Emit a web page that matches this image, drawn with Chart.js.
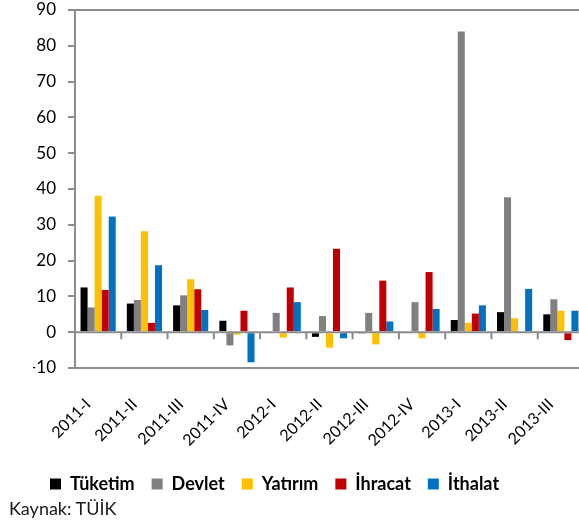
<!DOCTYPE html>
<html>
<head>
<meta charset="utf-8">
<script src="https://cdn.jsdelivr.net/npm/chart.js@4"></script>
<style>
  body { margin: 0; overflow: hidden; background: #fff; }
  #wrap { position: absolute; left: 0; top: 0; width: 600px; height: 525px; }
  #source { position: absolute; left: 9px; top: 497px; font: 18px Lato, sans-serif; color: #1a1a1a; }
</style>
</head>
<body>
<div id="wrap"><canvas id="growthChart"></canvas></div>
<div id="source">Kaynak: TÜİK</div>
<script>
const quarters = ['2011-I', '2011-II', '2011-III', '2011-IV', '2012-I', '2012-II', '2012-III', '2012-IV', '2013-I', '2013-II', '2013-III'];
const tuketim = [12.5, 8.0, 7.5, 3.2, -0.3, -1.3, -0.2, -0.3, 3.4, 5.6, 5.0];
const devlet = [6.9, 9.0, 10.3, -3.7, 5.4, 4.5, 5.4, 8.4, 84.0, 37.7, 9.2];
const yatirim = [38.1, 28.2, 14.8, -0.7, -1.5, -4.3, -3.4, -1.7, 2.6, 3.9, 6.0];
const ihracat = [11.8, 2.6, 12.0, 6.0, 12.5, 23.3, 14.4, 16.8, 5.2, 0, -2.2];
const ithalat = [32.3, 18.7, 6.2, -8.4, 8.4, -1.7, 3.0, 6.5, 7.5, 12.1, 6.0];

const axisGray = '#8c8c8c';

// category axis drawn at zero, with tick marks between quarters
const zeroAxis = {
    id: 'zeroAxis',
    afterDatasetsDraw(chart) {
        const x = chart.scales.x, y = chart.scales.y;
        const ctx = chart.ctx;
        const y0 = y.getPixelForValue(0);
        const step = x.width / quarters.length;
        ctx.save();
        ctx.strokeStyle = axisGray;
        ctx.lineWidth = 2;
        ctx.beginPath();
        ctx.moveTo(x.left, y0);
        ctx.lineTo(x.right, y0);
        for (let i = 1; i <= quarters.length; i++) {
            const px = x.getPixelForValue(i - 1) + step / 2;
            ctx.moveTo(px, y0);
            ctx.lineTo(px, y0 + 7);
        }
        ctx.stroke();
        ctx.restore();
    }
};

new Chart(document.getElementById('growthChart'), {
    type: 'bar',
    data: {
        labels: quarters,
        datasets: [
            { label: 'Tüketim', data: tuketim, backgroundColor: '#000000' },
            { label: 'Devlet', data: devlet, backgroundColor: '#808080' },
            { label: 'Yatırım', data: yatirim, backgroundColor: '#FFC000' },
            { label: 'İhracat', data: ihracat, backgroundColor: '#C00000' },
            { label: 'İthalat', data: ithalat, backgroundColor: '#0070C0' }
        ]
    },
    options: {
        responsive: true,
        maintainAspectRatio: false,
        animation: false,
        categoryPercentage: 0.76,
        barPercentage: 1.0,
        layout: { padding: { left: 33, right: 16, top: 0, bottom: 22 } },
        scales: {
            x: {
                grid: { display: false },
                border: { display: false },
                ticks: {
                    minRotation: 45,
                    maxRotation: 45,
                    autoSkip: false,
                    padding: 19,
                    labelOffset: -10,
                    color: '#000',
                    font: { family: 'Lato', size: 16 }
                },
                afterFit: (scale) => { scale.height = 90; }
            },
            y: {
                min: -10,
                max: 90,
                ticks: {
                    stepSize: 10,
                    padding: 12,
                    color: '#000',
                    font: { family: 'Lato', size: 17 }
                },
                grid: {
                    color: (c) => (c.tick && (c.tick.value === 90 || c.tick.value === -10)) ? axisGray : 'rgba(0,0,0,0)',
                    tickColor: axisGray,
                    tickLength: 7,
                    lineWidth: 2
                },
                border: { color: axisGray, width: 2 },
                afterFit: (scale) => {
                    scale.width = 42;
                    scale.paddingTop = 10;
                    scale.paddingBottom = 10;
                }
            }
        },
        plugins: {
            legend: {
                position: 'bottom',
                align: 'start',
                labels: {
                    boxWidth: 11,
                    boxHeight: 11,
                    padding: 17,
                    color: '#000',
                    font: { family: 'Lato', size: 18, weight: 'bold' }
                }
            },
            tooltip: { enabled: false }
        }
    },
    plugins: [zeroAxis]
});
</script>
</body>
</html>
